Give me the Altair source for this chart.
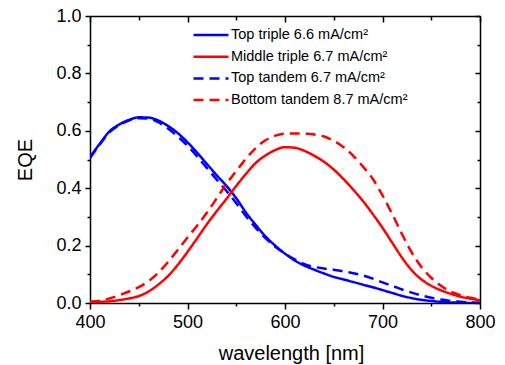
import altair as alt
import pandas as pd

wavelength = list(range(400, 801, 10))

top_triple = [0.508, 0.555, 0.598, 0.622, 0.638, 0.647, 0.646, 0.636, 0.617, 0.592,
              0.560, 0.523, 0.484, 0.445, 0.408, 0.365, 0.315, 0.272, 0.232, 0.200,
              0.172, 0.148, 0.130, 0.116, 0.103, 0.091, 0.082, 0.073, 0.064, 0.055,
              0.045, 0.035, 0.025, 0.017, 0.011, 0.007, 0.004, 0.002, 0.001, 0.000, 0.000]

middle_triple = [0.003, 0.004, 0.006, 0.010, 0.016, 0.024, 0.040, 0.064, 0.094, 0.133,
                 0.178, 0.226, 0.275, 0.320, 0.363, 0.408, 0.450, 0.488, 0.514, 0.533,
                 0.543, 0.541, 0.530, 0.513, 0.492, 0.465, 0.432, 0.395, 0.355, 0.310,
                 0.262, 0.210, 0.158, 0.114, 0.082, 0.060, 0.044, 0.032, 0.022, 0.015, 0.010]

top_tandem = [0.505, 0.552, 0.595, 0.620, 0.636, 0.644, 0.642, 0.630, 0.608, 0.580,
              0.548, 0.510, 0.470, 0.430, 0.390, 0.348, 0.302, 0.262, 0.226, 0.196,
              0.172, 0.152, 0.135, 0.126, 0.120, 0.116, 0.110, 0.104, 0.096, 0.085,
              0.072, 0.060, 0.047, 0.036, 0.026, 0.018, 0.012, 0.007, 0.004, 0.002, 0.001]

bottom_tandem = [0.004, 0.008, 0.016, 0.027, 0.040, 0.055, 0.076, 0.105, 0.143, 0.185,
                 0.228, 0.270, 0.315, 0.365, 0.415, 0.460, 0.503, 0.540, 0.567, 0.583,
                 0.590, 0.591, 0.590, 0.587, 0.580, 0.565, 0.543, 0.513, 0.475, 0.433,
                 0.375, 0.310, 0.240, 0.176, 0.125, 0.088, 0.060, 0.040, 0.027, 0.018, 0.012]

series_names = ["Top triple 6.6 mA/cm\u00b2", "Middle triple 6.7 mA/cm\u00b2",
                "Top tandem 6.7 mA/cm\u00b2", "Bottom tandem 8.7 mA/cm\u00b2"]
series_colors = ["#0000ff", "#ff0000", "#0000ff", "#ff0000"]
series_dashes = [[1, 0], [1, 0], [10, 6], [10, 6]]

x_ticks = [400, 450, 500, 550, 600, 650, 700, 750, 800]
y_ticks = [0.0, 0.1, 0.2, 0.3, 0.4, 0.5, 0.6, 0.7, 0.8, 0.9, 1.0]

rows = []
for name, vals in zip(series_names, [top_triple, middle_triple, top_tandem, bottom_tandem]):
    for w, v in zip(wavelength, vals):
        rows.append({"wavelength": w, "eqe": v, "series": name})
df = pd.DataFrame(rows)

FONT = "Liberation Sans"
xscale = alt.Scale(domain=[400, 800], nice=False, zero=False)
yscale = alt.Scale(domain=[0, 1], nice=False)

x_major = "datum.value % 100 === 0"
y_major = "round(datum.value * 10) % 2 === 0"

legend = alt.Legend(
    title=None, orient="none", legendX=102, legendY=10,
    symbolType="stroke", symbolSize=1225, symbolStrokeWidth=2.5,
    labelFont=FONT, labelFontSize=14.5, labelColor="black", labelOffset=1,
    labelLimit=400, clipHeight=18, rowPadding=3.7, padding=0,
)

lines = alt.Chart(df).mark_line(strokeWidth=2.5, interpolate="monotone", clip=True).encode(
    x=alt.X("wavelength:Q", scale=xscale, axis=alt.Axis(
        orient="bottom", values=x_ticks, title="wavelength [nm]",
        labelExpr=f"{x_major} ? datum.label : ''",
        tickSize={"condition": {"test": x_major, "value": 6}, "value": 3},
        labelFont=FONT, labelFontSize=18, labelColor="black", labelPadding=4,
        titleFont=FONT, titleFontSize=20, titleFontWeight="normal", titleColor="black",
        titleX=201, titleY=50, titleBaseline="middle",
        domainColor="black", domainWidth=1.5, tickColor="black", tickWidth=1.5,
        grid=False, labelFlush=False, labelOverlap=False,
    )),
    y=alt.Y("eqe:Q", scale=yscale, axis=alt.Axis(
        orient="left", values=y_ticks, title="EQE",
        labelExpr=f"{y_major} ? format(datum.value, '.1f') : ''",
        tickSize={"condition": {"test": y_major, "value": 5}, "value": 3},
        labelFont=FONT, labelFontSize=18, labelColor="black", labelPadding=4,
        titleFont=FONT, titleFontSize=20, titleFontWeight="normal", titleColor="black",
        titleX=-65, titleY=143.5, titleAngle=-90, titleBaseline="middle", titleAlign="center",
        domainColor="black", domainWidth=1.5, tickColor="black", tickWidth=1.5,
        grid=False, labelFlush=False, labelOverlap=False,
    )),
    color=alt.Color("series:N", scale=alt.Scale(domain=series_names, range=series_colors),
                    sort=series_names, legend=legend),
    strokeDash=alt.StrokeDash("series:N", scale=alt.Scale(domain=series_names, range=series_dashes),
                              sort=series_names, legend=legend),
)

frame = alt.Chart(df).mark_point(opacity=0).encode(
    x=alt.X("wavelength:Q", scale=xscale, axis=alt.Axis(
        orient="top", values=x_ticks, title=None, labels=False,
        tickSize={"condition": {"test": x_major, "value": -6}, "value": -4},
        domainColor="black", domainWidth=1.5, tickColor="black", tickWidth=1.5, grid=False,
    )),
    y=alt.Y("eqe:Q", scale=yscale, axis=alt.Axis(
        orient="right", values=y_ticks, title=None, labels=False,
        tickSize={"condition": {"test": y_major, "value": -5}, "value": -3},
        domainColor="black", domainWidth=1.5, tickColor="black", tickWidth=1.5, grid=False,
    )),
)

chart = alt.layer(lines, frame).resolve_axis(x="independent", y="independent").properties(
    width=390, height=287,
    autosize=alt.AutoSizeParams(type="none"),
    padding={"left": 82, "top": 8, "right": 17, "bottom": 62},
).configure_view(stroke=None).configure(background="white")

chart.save("out.html", embed_options={"renderer": "svg", "actions": False})
